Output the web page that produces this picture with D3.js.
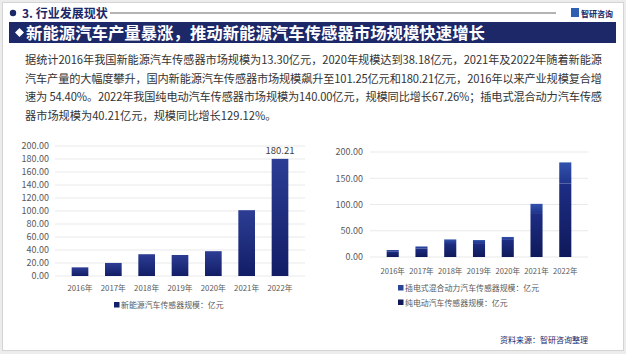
<!DOCTYPE html>
<html>
<head>
<meta charset="utf-8">
<script src="https://cdn.jsdelivr.net/npm/d3@7"></script>
<style>
  html, body { margin: 0; padding: 0; background: #ececec; }
  svg { display: block; font-family: "Noto Sans CJK SC", "Noto Sans", sans-serif; }
</style>
</head>
<body>
<div id="chart"></div>
<script>
// data
const years = ['2016年', '2017年', '2018年', '2019年', '2020年', '2021年', '2022年'];
const totalSize = [13.30, 20.10, 33.50, 32.30, 38.18, 101.25, 180.21];
const bevSize = [10.80, 16.30, 26.60, 26.50, 32.58, 83.70, 140.00];
const phevSize = [2.50, 3.80, 6.90, 5.80, 5.60, 17.55, 40.21];
const leftTicks = [0, 20, 40, 60, 80, 100, 120, 140, 160, 180, 200];
const rightTicks = [0, 50, 100, 150, 200];
const paraLines = [
    '据统计2016年我国新能源汽车传感器市场规模为13.30亿元，2020年规模达到38.18亿元，2021年及2022年随着新能源',
    '汽车产量的大幅度攀升，国内新能源汽车传感器市场规模飙升至101.25亿元和180.21亿元，2016年以来产业规模复合增',
    '速为 54.40%。2022年我国纯电动汽车传感器市场规模为140.00亿元，规模同比增长67.26%；插电式混合动力汽车传感',
    '器市场规模为40.21亿元，规模同比增长129.12%。'
];

const W = 626, H = 354;
const svg = d3.select('#chart').append('svg').attr('width', W).attr('height', H);

// gradients for the bars
const defs = svg.append('defs');
function addGrad(id, top, bottom) {
    const g = defs.append('linearGradient').attr('id', id)
        .attr('x1', 0).attr('y1', 0).attr('x2', 0).attr('y2', 1);
    g.append('stop').attr('offset', '0%').attr('stop-color', top);
    g.append('stop').attr('offset', '100%').attr('stop-color', bottom);
}
addGrad('gTotal', '#2c3d94', '#121d66');
addGrad('gBev', '#1d2d84', '#0f195a');
addGrad('gPhev', '#3252ad', '#20358e');

// page frame
svg.append('rect').attr('x', 2.5).attr('y', 2.5).attr('width', W - 5).attr('height', H - 6)
    .attr('fill', '#fff').attr('stroke', '#d4d4d4');

// section header
svg.append('circle').attr('cx', 13).attr('cy', 13).attr('r', 3.2).attr('fill', '#1b2766');
svg.append('text').attr('x', 22).attr('y', 17.5).attr('font-size', 12).attr('font-weight', 'bold')
    .attr('fill', '#1b2766').text('3. 行业发展现状');
svg.append('line').attr('x1', 110).attr('x2', 556).attr('y1', 13).attr('y2', 13)
    .attr('stroke', '#9a9a9a').attr('stroke-width', 1.5);
svg.append('rect').attr('x', 571).attr('y', 8).attr('width', 8).attr('height', 9).attr('fill', '#2f5fb0');
svg.append('text').attr('x', 581).attr('y', 16.5).attr('font-size', 8).attr('font-weight', 'bold')
    .attr('fill', '#1b2766').text('智研咨询');

// title bar
svg.append('rect').attr('x', 9).attr('y', 22).attr('width', 607).attr('height', 21).attr('fill', '#1c2868');
svg.append('path').attr('d', 'M15,32.5 L19.5,28 L24,32.5 L19.5,37 Z').attr('fill', '#fff');
svg.append('text').attr('x', 26).attr('y', 39).attr('font-size', 16.4).attr('font-weight', 'bold')
    .attr('fill', '#fff').text('新能源汽车产量暴涨，推动新能源汽车传感器市场规模快速增长');

// paragraph
svg.append('g').selectAll('text').data(paraLines).enter().append('text')
    .attr('x', 25)
    .attr('y', (d, i) => 64 + i * 18.7)
    .attr('font-size', 11.2)
    .attr('fill', '#333')
    .attr('textLength', (d, i) => i < 3 ? 577 : null)
    .attr('lengthAdjust', 'spacing')
    .text(d => d);

const labelColor = '#595959';

// ---- left chart: total market size ----
const xL = d3.scaleBand().domain(years).range([55, 305]).padding(0.5);
const yL = d3.scaleLinear().domain([0, 200]).range([276, 146]);
const gL = svg.append('g');

gL.selectAll('.grid').data(leftTicks).enter().append('line')
    .attr('x1', 55).attr('x2', 305)
    .attr('y1', d => yL(d)).attr('y2', d => yL(d))
    .attr('stroke', '#e3e3e3').attr('stroke-width', 0.8);

gL.selectAll('.yl').data(leftTicks).enter().append('text')
    .attr('x', 49).attr('y', d => yL(d) + 3.3)
    .attr('text-anchor', 'end').attr('font-size', 9).attr('fill', labelColor)
    .text(d => d3.format('.2f')(d));

gL.selectAll('rect.bar').data(totalSize).enter().append('rect')
    .attr('class', 'bar')
    .attr('x', (d, i) => xL(years[i]))
    .attr('width', xL.bandwidth())
    .attr('y', d => yL(d))
    .attr('height', d => yL(0) - yL(d))
    .attr('fill', 'url(#gTotal)');

gL.append('text')
    .attr('x', xL(years[6]) + xL.bandwidth() / 2)
    .attr('y', yL(totalSize[6]) - 5)
    .attr('text-anchor', 'middle').attr('font-size', 9.5).attr('fill', '#404040')
    .text(d3.format('.2f')(totalSize[6]));

gL.selectAll('.xl').data(years).enter().append('text')
    .attr('x', d => xL(d) + xL.bandwidth() / 2).attr('y', 290.5)
    .attr('text-anchor', 'middle').attr('font-size', 7.8).attr('fill', labelColor)
    .text(d => d);

gL.append('rect').attr('x', 114).attr('y', 302).attr('width', 5.5).attr('height', 5.5).attr('fill', '#141f6a');
gL.append('text').attr('x', 121).attr('y', 308).attr('font-size', 7.9).attr('fill', labelColor)
    .text('新能源汽车传感器规模：亿元');

// ---- right chart: BEV + PHEV stacked ----
const xR = d3.scaleBand().domain(years).range([370, 588]).padding(0.58);
const yR = d3.scaleLinear().domain([0, 200]).range([257, 152]);
const gR = svg.append('g');

gR.selectAll('.grid').data(rightTicks).enter().append('line')
    .attr('x1', 370).attr('x2', 588)
    .attr('y1', d => yR(d)).attr('y2', d => yR(d))
    .attr('stroke', '#e3e3e3').attr('stroke-width', 0.8);

gR.selectAll('.yl').data(rightTicks).enter().append('text')
    .attr('x', 363).attr('y', d => yR(d) + 3.3)
    .attr('text-anchor', 'end').attr('font-size', 9).attr('fill', labelColor)
    .text(d => d3.format('.2f')(d));

const stackRows = years.map((y, i) => ({ year: y, bev: bevSize[i], phev: phevSize[i] }));
const series = d3.stack().keys(['bev', 'phev'])(stackRows);
const fills = { bev: 'url(#gBev)', phev: 'url(#gPhev)' };

gR.selectAll('g.s').data(series).enter().append('g')
    .attr('fill', d => fills[d.key])
    .selectAll('rect').data(d => d).enter().append('rect')
    .attr('x', d => xR(d.data.year))
    .attr('width', xR.bandwidth())
    .attr('y', d => yR(d[1]))
    .attr('height', d => yR(d[0]) - yR(d[1]));

gR.selectAll('.xl').data(years).enter().append('text')
    .attr('x', d => xR(d) + xR.bandwidth() / 2).attr('y', 273.5)
    .attr('text-anchor', 'middle').attr('font-size', 7.6).attr('fill', labelColor)
    .text(d => d);

const legendR = [
    { label: '插电式混合动力汽车传感器规模：亿元', color: '#2a4496', y: 288 },
    { label: '纯电动汽车传感器规模：亿元', color: '#0f195a', y: 302.5 }
];
const lg = gR.selectAll('.lg').data(legendR).enter().append('g');
lg.append('rect').attr('x', 398).attr('y', d => d.y - 3).attr('width', 5.5).attr('height', 5.5)
    .attr('fill', d => d.color);
lg.append('text').attr('x', 405).attr('y', d => d.y + 3).attr('font-size', 7.9).attr('fill', labelColor)
    .text(d => d.label);

svg.append('text').attr('x', 588).attr('y', 343).attr('text-anchor', 'end')
    .attr('font-size', 8).attr('fill', '#1c2868').text('资料来源：智研咨询整理');
</script>
</body>
</html>
